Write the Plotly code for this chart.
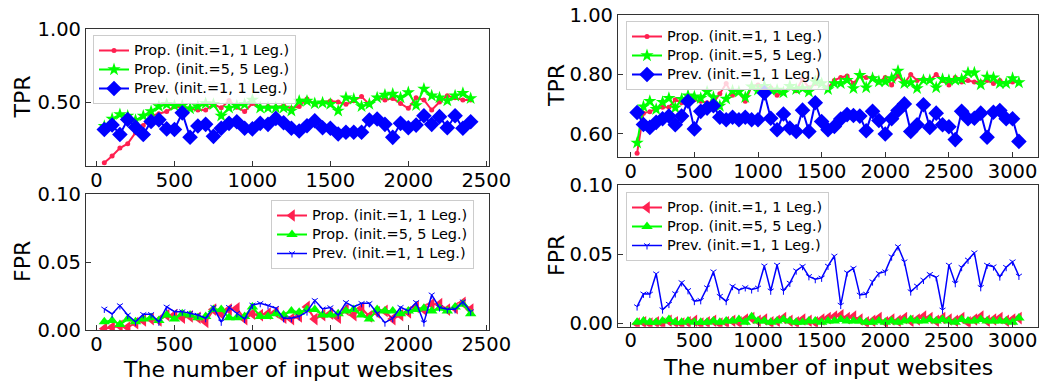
import plotly.graph_objects as go

# ---------------- data ----------------
x_left = [50, 100, 150, 200, 250, 300, 350, 400, 450, 500, 550, 600, 650, 700, 750, 800,
          850, 900, 950, 1000, 1050, 1100, 1150, 1200, 1250, 1300, 1350, 1400, 1450, 1500,
          1550, 1600, 1650, 1700, 1750, 1800, 1850, 1900, 1950, 2000, 2050, 2100, 2150,
          2200, 2250, 2300, 2350, 2400]

x_right = [50, 100, 150, 200, 250, 300, 350, 400, 450, 500, 550, 600, 650, 700, 750, 800,
           850, 900, 950, 1000, 1050, 1100, 1150, 1200, 1250, 1300, 1350, 1400, 1450, 1500,
           1550, 1600, 1650, 1700, 1750, 1800, 1850, 1900, 1950, 2000, 2050, 2100, 2150,
           2200, 2250, 2300, 2350, 2400, 2450, 2500, 2550, 2600, 2650, 2700, 2750, 2800,
           2850, 2900, 2950, 3000, 3050]

# left TPR
tpr_l_prop1 = [0.085, 0.13, 0.185, 0.215, 0.29, 0.34, 0.405, 0.42, 0.435, 0.47, 0.46, 0.455,
               0.445, 0.445, 0.485, 0.46, 0.51, 0.465, 0.435, 0.49, 0.46, 0.47, 0.465, 0.475,
               0.457, 0.47, 0.52, 0.486, 0.5, 0.507, 0.5, 0.484, 0.509, 0.537, 0.484, 0.53,
               0.514, 0.525, 0.49, 0.457, 0.53, 0.514, 0.445, 0.5, 0.543, 0.53, 0.514, 0.514]
tpr_l_prop5 = [0.335, 0.385, 0.415, 0.405, 0.375, 0.405, 0.435, 0.47, 0.485, 0.475, 0.475,
               0.455, 0.47, 0.49, 0.485, 0.405, 0.46, 0.475, 0.485, 0.515, 0.46, 0.46, 0.46,
               0.46, 0.44, 0.507, 0.507, 0.49, 0.495, 0.486, 0.44, 0.53, 0.52, 0.47, 0.486,
               0.53, 0.548, 0.555, 0.53, 0.566, 0.477, 0.59, 0.543, 0.53, 0.509, 0.543, 0.56,
               0.525]
tpr_l_prev = [0.312, 0.343, 0.278, 0.38, 0.328, 0.278, 0.367, 0.378, 0.316, 0.312, 0.426,
              0.259, 0.336, 0.347, 0.265, 0.32, 0.354, 0.365, 0.32, 0.316, 0.354, 0.347,
              0.388, 0.358, 0.32, 0.302, 0.338, 0.372, 0.324, 0.32, 0.281, 0.293, 0.293,
              0.293, 0.377, 0.384, 0.347, 0.258, 0.354, 0.324, 0.342, 0.406, 0.347, 0.4,
              0.324, 0.406, 0.32, 0.365]

# left FPR
fpr_l_prop1 = [0.001, 0.002, 0.003, 0.002, 0.005, 0.007, 0.008, 0.007, 0.011, 0.011, 0.009,
               0.01, 0.009, 0.006, 0.015, 0.012, 0.015, 0.016, 0.008, 0.012, 0.011, 0.012,
               0.013, 0.009, 0.008, 0.01, 0.017, 0.008, 0.011, 0.012, 0.009, 0.015, 0.011,
               0.016, 0.01, 0.013, 0.014, 0.008, 0.011, 0.013, 0.017, 0.015, 0.019, 0.019,
               0.015, 0.016, 0.02, 0.015]
fpr_l_prop5 = [0.006, 0.007, 0.004, 0.008, 0.006, 0.008, 0.009, 0.007, 0.011, 0.008, 0.012,
               0.011, 0.009, 0.01, 0.015, 0.015, 0.009, 0.009, 0.01, 0.017, 0.01, 0.01,
               0.012, 0.011, 0.014, 0.013, 0.015, 0.015, 0.011, 0.011, 0.012, 0.014, 0.015,
               0.011, 0.008, 0.015, 0.014, 0.014, 0.012, 0.014, 0.015, 0.016, 0.014, 0.016,
               0.014, 0.017, 0.019, 0.012]
fpr_l_prev = [0.0155, 0.0118, 0.018, 0.011, 0.006, 0.0115, 0.0115, 0.006, 0.017, 0.0135,
              0.0135, 0.0123, 0.011, 0.0086, 0.0167, 0.006, 0.0167, 0.0123, 0.0081, 0.0184,
              0.0196, 0.018, 0.016, 0.0086, 0.0086, 0.01, 0.0135, 0.0218, 0.0155, 0.0165,
              0.011, 0.0203, 0.017, 0.0196, 0.0196, 0.0123, 0.0054, 0.0086, 0.0167, 0.014,
              0.0203, 0.0054, 0.0259, 0.0165, 0.0152, 0.0152, 0.0208, 0.0135]

# right TPR
tpr_r_prop1 = [0.535, 0.67, 0.675, 0.685, 0.69, 0.69, 0.715, 0.705, 0.72, 0.715, 0.71, 0.705,
               0.705, 0.735, 0.77, 0.73, 0.74, 0.71, 0.76, 0.765, 0.75, 0.755, 0.73, 0.74,
               0.76, 0.745, 0.785, 0.755, 0.77, 0.77, 0.755, 0.78, 0.79, 0.795, 0.77, 0.795,
               0.79, 0.79, 0.775, 0.79, 0.765, 0.795, 0.77, 0.8, 0.78, 0.785, 0.78, 0.8, 0.78,
               0.765, 0.79, 0.775, 0.78, 0.775, 0.775, 0.78, 0.77, 0.78, 0.77, 0.775, 0.775]
tpr_r_prop5 = [0.57, 0.692, 0.71, 0.683, 0.707, 0.72, 0.688, 0.717, 0.729, 0.725, 0.72, 0.742,
               0.723, 0.694, 0.718, 0.745, 0.742, 0.723, 0.759, 0.748, 0.761, 0.748, 0.748,
               0.739, 0.761, 0.75, 0.753, 0.742, 0.776, 0.77, 0.75, 0.77, 0.77, 0.781, 0.753,
               0.798, 0.756, 0.787, 0.776, 0.776, 0.787, 0.812, 0.77, 0.773, 0.753, 0.781,
               0.781, 0.756, 0.784, 0.781, 0.781, 0.784, 0.806, 0.806, 0.766, 0.792, 0.789,
               0.77, 0.77, 0.787, 0.773]
tpr_r_prev = [0.672, 0.632, 0.622, 0.639, 0.651, 0.66, 0.631, 0.66, 0.71, 0.617, 0.676, 0.687,
              0.695, 0.656, 0.648, 0.656, 0.648, 0.656, 0.648, 0.648, 0.738, 0.653, 0.614,
              0.667, 0.62, 0.608, 0.68, 0.608, 0.705, 0.642, 0.614, 0.625, 0.65, 0.665, 0.662,
              0.66, 0.611, 0.676, 0.645, 0.6, 0.651, 0.679, 0.701, 0.608, 0.631, 0.698, 0.622,
              0.67, 0.631, 0.624, 0.581, 0.676, 0.651, 0.653, 0.67, 0.589, 0.673, 0.679, 0.651,
              0.651, 0.575]

# right FPR
fpr_r_prop1 = [0.000, 0.001, 0.000, 0.001, 0.000, 0.002, 0.001, 0.000, 0.001, 0.002, 0.000,
               0.001, 0.002, 0.000, 0.001, 0.002, 0.001, 0.003, 0.004, 0.002, 0.003, 0.001,
               0.002, 0.004, 0.002, 0.001, 0.003, 0.002, 0.001, 0.003, 0.004, 0.005, 0.006,
               0.004, 0.005, 0.003, 0.001, 0.002, 0.004, 0.001, 0.003, 0.002, 0.004, 0.002,
               0.003, 0.005, 0.004, 0.002, 0.004, 0.003, 0.002, 0.004, 0.001, 0.003, 0.005,
               0.002, 0.003, 0.004, 0.002, 0.003, 0.004]
fpr_r_prop5 = [0.001, 0.002, 0.001, 0.001, 0.002, 0.003, 0.001, 0.001, 0.002, 0.001, 0.001,
               0.001, 0.002, 0.001, 0.002, 0.002, 0.003, 0.001, 0.005, 0.002, 0.002, 0.001,
               0.002, 0.003, 0.002, 0.001, 0.001, 0.002, 0.002, 0.001, 0.002, 0.002, 0.003,
               0.002, 0.002, 0.002, 0.001, 0.001, 0.002, 0.001, 0.002, 0.001, 0.002, 0.003,
               0.002, 0.002, 0.003, 0.002, 0.003, 0.002, 0.001, 0.003, 0.002, 0.002, 0.003,
               0.002, 0.002, 0.002, 0.002, 0.001, 0.004]
fpr_r_prev = [0.0123, 0.0215, 0.0214, 0.036, 0.0101, 0.0141, 0.0217, 0.0297, 0.024, 0.0162,
              0.0168, 0.026, 0.0375, 0.0198, 0.0162, 0.027, 0.0243, 0.0261, 0.0246, 0.0258,
              0.0417, 0.0237, 0.0423, 0.0237, 0.0293, 0.0382, 0.0414, 0.0341, 0.032, 0.033,
              0.0416, 0.0488, 0.0134, 0.0368, 0.04, 0.0207, 0.0214, 0.0303, 0.0363, 0.0375,
              0.0483, 0.0556, 0.0447, 0.0231, 0.0272, 0.0315, 0.0356, 0.0334, 0.0099, 0.0423,
              0.0291, 0.0407, 0.046, 0.0512, 0.0262, 0.0423, 0.0411, 0.0339, 0.0407, 0.0447,
              0.0344]

names = ["Prop. (init.=1, 1 Leg.)", "Prop. (init.=5, 5 Leg.)", "Prev. (init.=1, 1 Leg.)"]
x_ticks_left = [0, 500, 1000, 1500, 2000, 2500]
x_ticks_right = [0, 500, 1000, 1500, 2000, 2500, 3000]

# ---------------- style ----------------
RED = "#ff2050"
GREEN = "#00ff00"
BLUE = "#0000ff"
FONT = "DejaVu Sans"
W, H = 1041, 384
LEG_TXT = 14.5


def lab(s):
    return '<span style="font-size:%.1fpx">%s</span>' % (LEG_TXT, s)


fig = go.Figure()


def add(x, y, name, color, symbol, size, xa, ya, legend, lw=2, mline=0):
    fig.add_trace(go.Scatter(
        x=x, y=y, name=lab(name), mode="lines+markers",
        line=dict(color=color, width=lw),
        marker=dict(symbol=symbol, size=size, color=color,
                    line=dict(width=mline, color=color)),
        xaxis=xa, yaxis=ya, legend=legend))


# top-left TPR
add(x_left, tpr_l_prop1, names[0], RED, "circle", 5, "x", "y", "legend")
add(x_left, tpr_l_prop5, names[1], GREEN, "star", 10, "x", "y", "legend")
add(x_left, tpr_l_prev, names[2], BLUE, "diamond", 12, "x", "y", "legend")
# bottom-left FPR
add(x_left, fpr_l_prop1, names[0], RED, "triangle-left", 11, "x2", "y2", "legend2")
add(x_left, fpr_l_prop5, names[1], GREEN, "triangle-up", 10, "x2", "y2", "legend2")
add(x_left, fpr_l_prev, names[2], BLUE, "y-down-open", 5, "x2", "y2", "legend2", lw=1.5, mline=1)
# top-right TPR
add(x_right, tpr_r_prop1, names[0], RED, "circle", 5, "x3", "y3", "legend3")
add(x_right, tpr_r_prop5, names[1], GREEN, "star", 10, "x3", "y3", "legend3")
add(x_right, tpr_r_prev, names[2], BLUE, "diamond", 12, "x3", "y3", "legend3")
# bottom-right FPR
add(x_right, fpr_r_prop1, names[0], RED, "triangle-left", 11, "x4", "y4", "legend4")
add(x_right, fpr_r_prop5, names[1], GREEN, "triangle-up", 10, "x4", "y4", "legend4")
add(x_right, fpr_r_prev, names[2], BLUE, "y-down-open", 5, "x4", "y4", "legend4", lw=1.5, mline=1)


def px_x(a, b):
    return [a / W, b / W]


def px_y(top, bottom):
    return [1 - bottom / H, 1 - top / H]


axis_common = dict(showline=True, linecolor="#333333", linewidth=1.2, mirror=True,
                   ticks="inside", ticklen=5, tickwidth=1, tickcolor="#333333",
                   showgrid=False, zeroline=False, automargin=False,
                   tickfont=dict(family=FONT, size=19.5, color="black"))
xaxis_common = dict(axis_common, ticklabelstandoff=-4)

fig.update_layout(
    width=W, height=H, margin=dict(l=0, r=0, t=0, b=0, autoexpand=False),
    paper_bgcolor="white", plot_bgcolor="white",
    font=dict(family=FONT, color="black"),
    xaxis=dict(domain=px_x(86, 489), range=[-67.5, 2517.5], tickvals=x_ticks_left,
               anchor="y", **xaxis_common),
    yaxis=dict(domain=px_y(29, 166), range=[0.062, 1.0], tickvals=[0.5, 1.0],
               tickformat=".2f", anchor="x", **axis_common),
    xaxis2=dict(domain=px_x(86, 489), range=[-67.5, 2517.5], tickvals=x_ticks_left,
                anchor="y2", **xaxis_common),
    yaxis2=dict(domain=px_y(194, 330), range=[0.0, 0.1], tickvals=[0.0, 0.05, 0.1],
                tickformat=".2f", anchor="x2", **axis_common),
    xaxis3=dict(domain=px_x(618, 1038), range=[-100, 3200], tickvals=x_ticks_right,
                anchor="y3", **xaxis_common),
    yaxis3=dict(domain=px_y(15, 157), range=[0.5225, 1.0], tickvals=[0.6, 0.8, 1.0],
                tickformat=".2f", anchor="x3", **axis_common),
    xaxis4=dict(domain=px_x(618, 1038), range=[-100, 3200], tickvals=x_ticks_right,
                anchor="y4", **xaxis_common),
    yaxis4=dict(domain=px_y(185, 326.7), range=[-0.0022, 0.1], tickvals=[0.0, 0.05, 0.1],
                tickformat=".2f", anchor="x4", **axis_common),
)

leg_common = dict(font=dict(family=FONT, size=11.5, color="black"),
                  bgcolor="rgba(255,255,255,0.8)", bordercolor="#cccccc", borderwidth=1,
                  xanchor="left", yanchor="top", tracegroupgap=0, itemwidth=30)
fig.update_layout(
    legend=dict(x=93 / W, y=1 - 35 / H, **leg_common),
    legend2=dict(x=271 / W, y=1 - 200 / H, **leg_common),
    legend3=dict(x=626 / W, y=1 - 21 / H, **leg_common),
    legend4=dict(x=626 / W, y=1 - 192 / H, **leg_common),
)

title_font = dict(family=FONT, size=22, color="black")
annots = [
    dict(text="TPR", x=22 / W, y=1 - 97.5 / H, textangle=-90),
    dict(text="FPR", x=22 / W, y=1 - 262 / H, textangle=-90),
    dict(text="TPR", x=556 / W, y=1 - 86 / H, textangle=-90),
    dict(text="FPR", x=556 / W, y=1 - 256 / H, textangle=-90),
    dict(text="The number of input websites", x=287.5 / W, y=1 - 369 / H, textangle=0),
    dict(text="The number of input websites", x=828 / W, y=1 - 367 / H, textangle=0),
]
for a in annots:
    fig.add_annotation(xref="paper", yref="paper", showarrow=False, borderpad=0,
                       xanchor="center", yanchor="middle", font=title_font, **a)

fig.write_html("out.html")
